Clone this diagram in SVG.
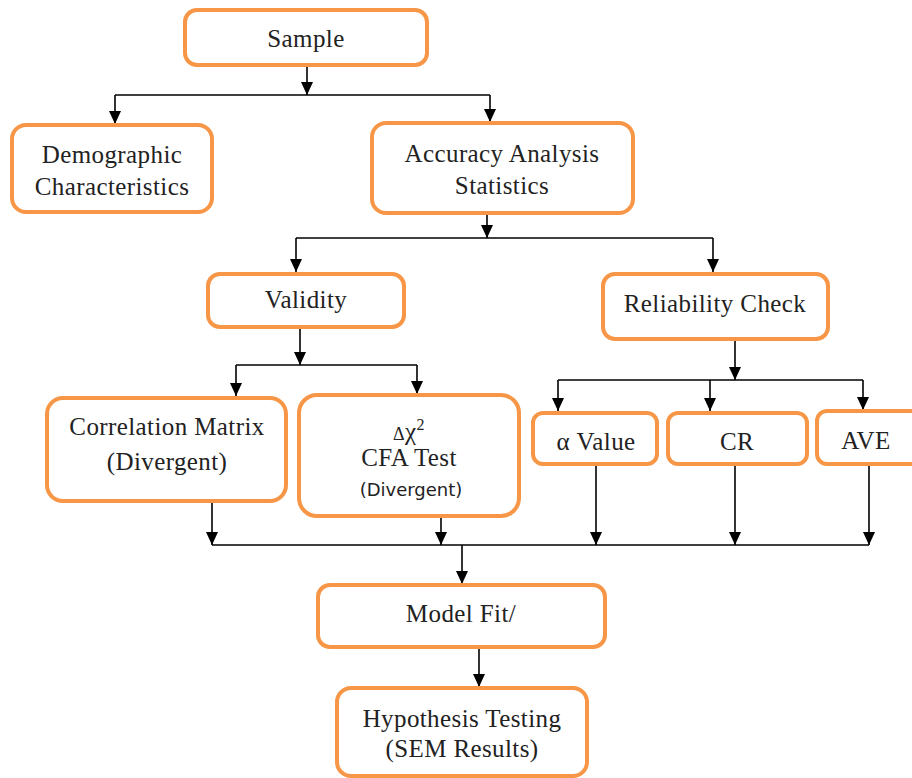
<svg xmlns="http://www.w3.org/2000/svg" width="912" height="778" viewBox="0 0 912 778">
<defs>
<marker id="ah" markerUnits="userSpaceOnUse" markerWidth="14" markerHeight="12" refX="13" refY="6" orient="auto" viewBox="0 0 14 12">
<path d="M0,0 L13,6 L0,12 Z" fill="#000"/>
</marker>
</defs>
<style>
.box{fill:#fff;stroke:#F79646;stroke-width:4}
.t{font-family:"Liberation Serif","Times New Roman",serif;font-size:25px;letter-spacing:0.4px;fill:#222;text-anchor:middle}
.s{font-family:"DejaVu Sans","Liberation Sans",sans-serif;font-size:18px;fill:#222;text-anchor:middle}
.c{stroke:#000;stroke-width:1.6;fill:none}
.a{stroke:#000;stroke-width:1.6;fill:none;marker-end:url(#ah)}
</style>
<rect width="912" height="778" fill="#fff"/>
<g id="connectors">
<path class="a" d="M307,65 V95"/>
<path class="c" d="M115,95 H490"/>
<path class="a" d="M115,95 V124"/>
<path class="a" d="M490,95 V122"/>
<path class="a" d="M487,213 V238"/>
<path class="c" d="M296,238 H713"/>
<path class="a" d="M296,238 V272"/>
<path class="a" d="M713,238 V272"/>
<path class="a" d="M300,327 V365"/>
<path class="c" d="M236,365 H417"/>
<path class="a" d="M236,365 V396"/>
<path class="a" d="M417,365 V394"/>
<path class="a" d="M735,339 V380"/>
<path class="c" d="M558,380 H863"/>
<path class="a" d="M558,380 V411"/>
<path class="a" d="M710,380 V411"/>
<path class="a" d="M863,380 V410"/>
<path class="a" d="M212,501 V545"/>
<path class="a" d="M441,517 V545"/>
<path class="a" d="M596,464 V545"/>
<path class="a" d="M735,464 V545"/>
<path class="a" d="M869,464 V545"/>
<path class="c" d="M212,545 H869"/>
<path class="a" d="M462,545 V584"/>
<path class="a" d="M479,647 V687"/>
</g>
<g id="sample"><rect class="box" x="185" y="10" width="242" height="55" rx="12"/><text class="t" x="306" y="47">Sample</text></g>
<g id="demographic"><rect class="box" x="12" y="125" width="200" height="87" rx="14"/><text class="t" x="112" y="163">Demographic</text><text class="t" x="112" y="195">Characteristics</text></g>
<g id="accuracy"><rect class="box" x="372" y="123" width="261" height="90" rx="14"/><text class="t" x="502" y="162">Accuracy Analysis</text><text class="t" x="502" y="194">Statistics</text></g>
<g id="validity"><rect class="box" x="208" y="274" width="196" height="53" rx="12"/><text class="t" x="306" y="308">Validity</text></g>
<g id="reliability"><rect class="box" x="603" y="274" width="225" height="65" rx="12"/><text class="t" x="715" y="312">Reliability Check</text></g>
<g id="correlation"><rect class="box" x="47" y="398" width="239" height="103" rx="16"/><text class="t" x="167" y="435">Correlation Matrix</text><text class="t" x="167" y="470">(Divergent)</text></g>
<g id="cfa"><rect class="box" x="299" y="395" width="220" height="121" rx="18"/><text class="t" x="409" y="440"><tspan font-size="18">Δ</tspan>χ<tspan font-size="16" dy="-10">2</tspan></text><text class="t" x="409" y="466">CFA Test</text><text class="s" x="411" y="496">(Divergent)</text></g>
<g id="alpha"><rect class="box" x="533" y="413" width="124" height="51" rx="10"/><text class="t" x="596" y="450">α Value</text></g>
<g id="cr"><rect class="box" x="668" y="413" width="139" height="51" rx="10"/><text class="t" x="737" y="450">CR</text></g>
<g id="ave"><rect class="box" x="817" y="411" width="110" height="53" rx="10"/><text class="t" x="866" y="449">AVE</text></g>
<g id="modelfit"><rect class="box" x="318" y="585" width="287" height="62" rx="12"/><text class="t" x="461" y="622">Model Fit/</text></g>
<g id="hypothesis"><rect class="box" x="337" y="688" width="250" height="88" rx="14"/><text class="t" x="462" y="727">Hypothesis Testing</text><text class="t" x="462" y="757">(SEM Results)</text></g>
</svg>
